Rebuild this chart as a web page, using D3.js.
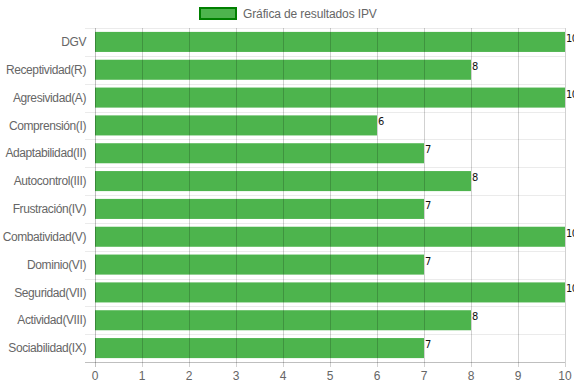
<!DOCTYPE html>
<html>
<head>
<meta charset="utf-8">
<script src="https://cdn.jsdelivr.net/npm/d3@7"></script>
<style>
  html, body { margin: 0; padding: 0; background: #fff; }
  svg { display: block; }
</style>
</head>
<body>
<svg id="chart"></svg>
<script>
// data
const categories = ['DGV', 'Receptividad(R)', 'Agresividad(A)', 'Comprensión(I)', 'Adaptabilidad(II)',
  'Autocontrol(III)', 'Frustración(IV)', 'Combatividad(V)', 'Dominio(VI)', 'Seguridad(VII)',
  'Actividad(VIII)', 'Sociabilidad(IX)'];
const values = [10, 8, 10, 6, 7, 8, 7, 10, 7, 10, 8, 7];
const xTicks = [0, 1, 2, 3, 4, 5, 6, 7, 8, 9, 10];
const seriesName = 'Gráfica de resultados IPV';

const W = 574, H = 386;
const margin = {top: 28, right: 9, bottom: 24, left: 95};
const font = '"Liberation Sans", Arial, sans-serif';

const svg = d3.select('#chart').attr('width', W).attr('height', H);

const x = d3.scaleLinear().domain([0, 10]).range([margin.left, W - margin.right]);
const y = d3.scaleBand().domain(categories)
  .range([margin.top, H - margin.bottom])
  .paddingInner(0.28).paddingOuter(0.14);
const step = y.step();

/******** horizontal grid (between categories) ********/
const hLines = d3.range(categories.length).map(i => margin.top + i * step);
svg.append('g').selectAll('line')
  .data(hLines)
  .join('line')
  .attr('x1', margin.left - 10)
  .attr('x2', x(10))
  .attr('y1', d => Math.round(d) + 0.5)
  .attr('y2', d => Math.round(d) + 0.5)
  .style('stroke', 'rgba(0,0,0,0.08)');

/******** bars ********/
svg.append('g').selectAll('rect')
  .data(values)
  .join('rect')
  .attr('x', x(0))
  .attr('y', (d, i) => y(categories[i]))
  .attr('width', d => x(d) - x(0))
  .attr('height', y.bandwidth())
  .style('fill', 'rgb(77,180,77)');

/******** vertical grid (on top of bars) ********/
svg.append('g').selectAll('line')
  .data(xTicks)
  .join('line')
  .attr('x1', d => Math.round(x(d)) + 0.5)
  .attr('x2', d => Math.round(x(d)) + 0.5)
  .attr('y1', margin.top)
  .attr('y2', H - margin.bottom + 5)
  .style('stroke', d => d === 0 ? 'rgba(0,0,0,0.25)' : 'rgba(0,0,0,0.18)');

// bottom axis line
svg.append('line')
  .attr('x1', margin.left - 10)
  .attr('x2', x(10))
  .attr('y1', H - margin.bottom + 0.5)
  .attr('y2', H - margin.bottom + 0.5)
  .style('stroke', 'rgba(0,0,0,0.25)');

/******** tick labels ********/
svg.append('g').selectAll('text')
  .data(xTicks)
  .join('text')
  .attr('x', d => x(d))
  .attr('y', H - margin.bottom + 18)
  .attr('text-anchor', 'middle')
  .style('font-family', font)
  .style('font-size', '12px')
  .style('fill', '#666')
  .text(d => d);

svg.append('g').selectAll('text')
  .data(categories)
  .join('text')
  .attr('x', margin.left - 9)
  .attr('y', d => y(d) + y.bandwidth() / 2)
  .attr('dy', '0.35em')
  .attr('text-anchor', 'end')
  .style('font-family', font)
  .style('font-size', '12px')
  .style('letter-spacing', '-0.4px')
  .style('fill', '#666')
  .text(d => d);

/******** values at bar ends ********/
svg.append('g').selectAll('text')
  .data(values)
  .join('text')
  .attr('x', d => x(d) + 1)
  .attr('y', (d, i) => y(categories[i]) + 10)
  .style('font-family', '"DejaVu Sans", sans-serif')
  .style('font-stretch', 'condensed')
  .style('font-size', '11px')
  .style('letter-spacing', '-0.5px')
  .style('fill', '#111')
  .text(d => d);

/******** legend ********/
const legend = svg.append('g');
legend.append('rect')
  .attr('x', 200).attr('y', 8)
  .attr('width', 36).attr('height', 11)
  .style('fill', 'rgb(77,180,77)')
  .style('stroke', 'rgb(0,128,0)')
  .style('stroke-width', 2);
legend.append('text')
  .attr('x', 243).attr('y', 13.5)
  .attr('dy', '0.35em')
  .style('font-family', font)
  .style('font-size', '12px')
  .style('letter-spacing', '-0.12px')
  .style('fill', '#666')
  .text(seriesName);
</script>
</body>
</html>
